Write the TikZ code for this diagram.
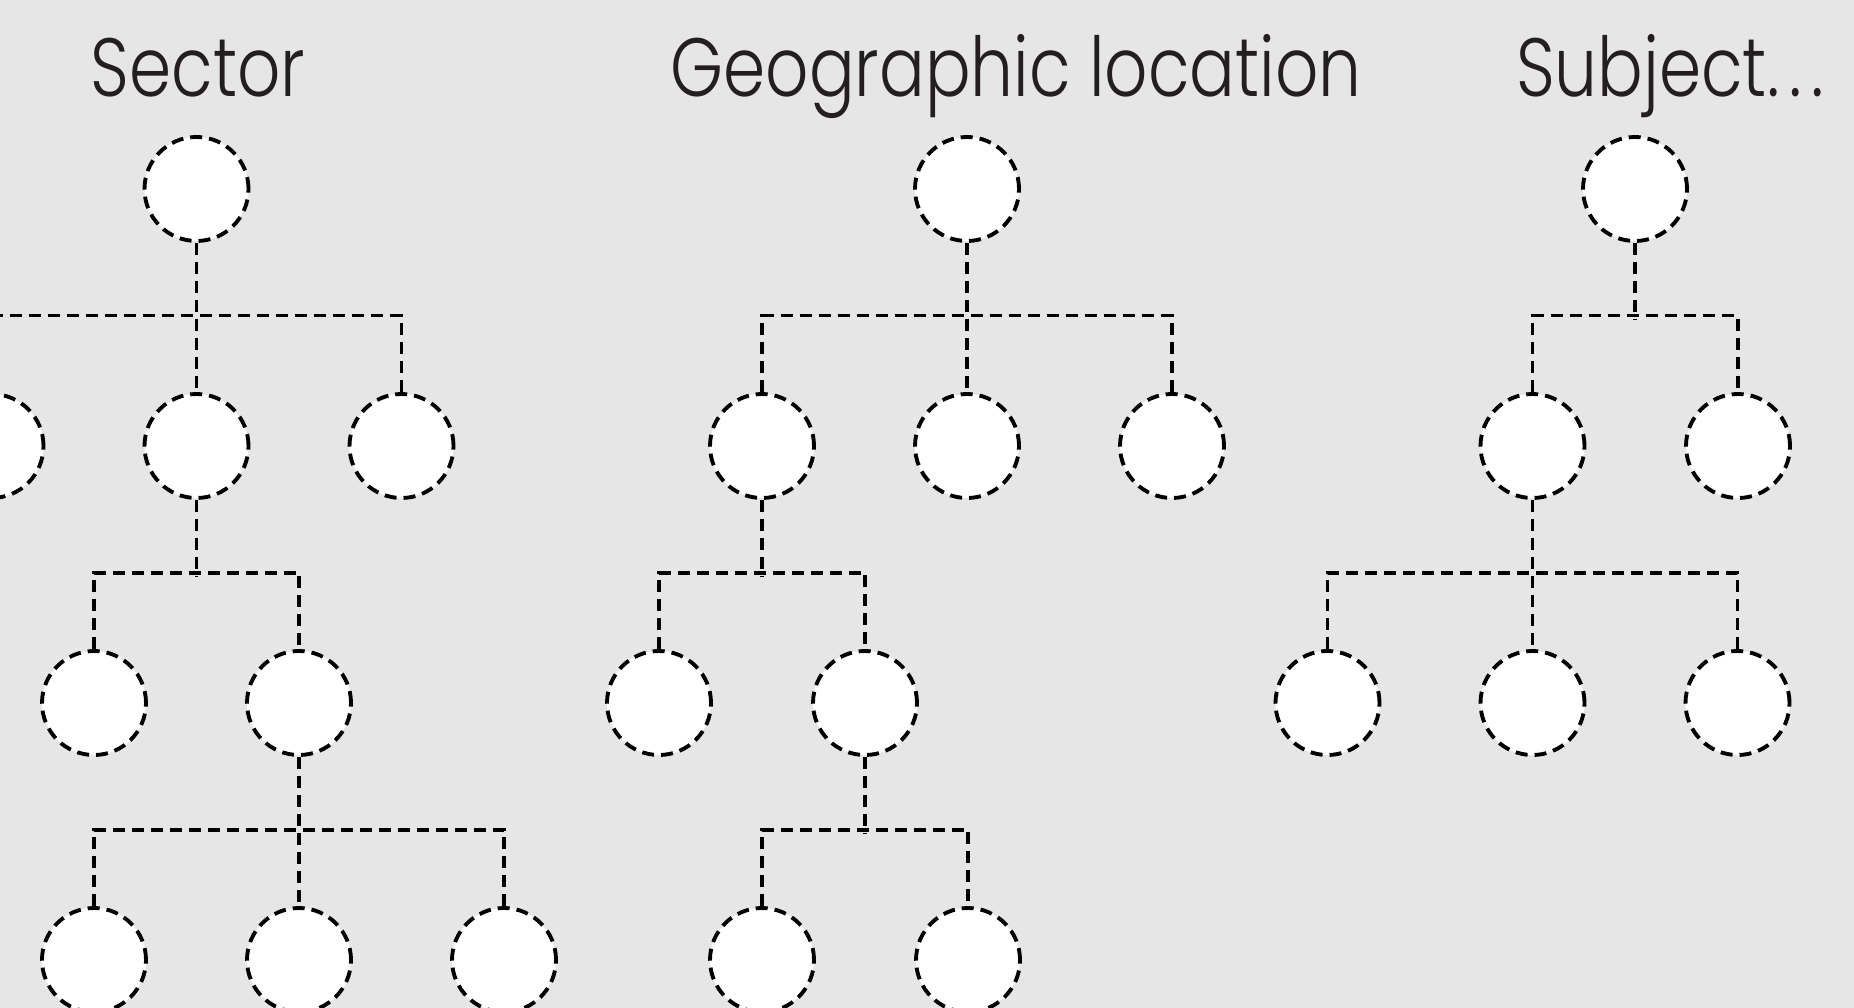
\documentclass[tikz,border=0pt]{standalone}
\usepackage{fontspec}
\setmainfont[FakeStretch=0.82]{Poppins Light}
\usetikzlibrary{positioning}
\definecolor{paper}{HTML}{E6E6E6}
\definecolor{ink}{HTML}{231F20}

\begin{document}
\begin{tikzpicture}[
    line width=1.1pt,
    set/.style={circle, draw, fill=white, dash pattern=on 0.12cm off 0.07cm, minimum size=1.04cm, inner sep=0pt},
    link/.style={draw, dash pattern=on 0.12cm off 0.07cm},
    title/.style={anchor=base, text=ink, inner sep=0pt, font=\fontsize{23.5}{28}\selectfont}
]
\clip (0,0) rectangle (18.54,-10.08);
\fill[paper] (0,0) rectangle (18.54,-10.08);

% 1. SECTOR
\begin{scope}[xshift=1.965cm]
    \node[title] (tsector) at (0.015,-0.97) {Sector};
    \node[set] (s0) at (0,-1.89) {};

    \node[set] (s1) at ([xshift=-2.05cm, yshift=-2.57cm]s0.center) {};
    \node[set] (s2) at ([yshift=-2.57cm]s0.center) {};
    \node[set] (s3) at ([xshift=2.05cm, yshift=-2.57cm]s0.center) {};

    \node[set] (s21) at ([xshift=-1.025cm, yshift=-2.57cm]s2.center) {};
    \node[set] (s22) at ([xshift=1.025cm, yshift=-2.57cm]s2.center) {};

    \node[set] (s221) at ([xshift=-2.05cm, yshift=-2.57cm]s22.center) {};
    \node[set] (s222) at ([yshift=-2.57cm]s22.center) {};
    \node[set] (s223) at ([xshift=2.05cm, yshift=-2.57cm]s22.center) {};

    \draw[link] (s0.south) -- (s2.north);
    \draw[link] (s1.north) -- ++(0,0.765) -| (s3.north);
    \draw[link] (s2.south) -- ++(0,-0.765);
    \draw[link] (s21.north) -- ++(0,0.765) -| (s22.north);
    \draw[link] (s22.south) -- (s222.north);
    \draw[link] (s221.north) -- ++(0,0.765) -| (s223.north);
\end{scope}

% 2. GEOGRAPHIC LOCATION
\begin{scope}[xshift=9.67cm]
    \node[title] (tgeo) at (0.49,-0.97) {Geographic location};
    \node[set] (g0) at (0,-1.89) {};

    \node[set] (g1) at ([xshift=-2.05cm, yshift=-2.57cm]g0.center) {};
    \node[set] (g2) at ([yshift=-2.57cm]g0.center) {};
    \node[set] (g3) at ([xshift=2.05cm, yshift=-2.57cm]g0.center) {};

    \node[set] (g11) at ([xshift=-1.03cm, yshift=-2.57cm]g1.center) {};
    \node[set] (g12) at ([xshift=1.03cm, yshift=-2.57cm]g1.center) {};

    \node[set] (g121) at ([xshift=-1.03cm, yshift=-2.57cm]g12.center) {};
    \node[set] (g122) at ([xshift=1.03cm, yshift=-2.57cm]g12.center) {};

    \draw[link] (g0.south) -- (g2.north);
    \draw[link] (g1.north) -- ++(0,0.765) -| (g3.north);
    \draw[link] (g1.south) -- ++(0,-0.765);
    \draw[link] (g11.north) -- ++(0,0.765) -| (g12.north);
    \draw[link] (g12.south) -- ++(0,-0.765);
    \draw[link] (g121.north) -- ++(0,0.765) -| (g122.north);
\end{scope}

% 3. SUBJECT
\begin{scope}[xshift=16.35cm]
    \node[title] (tsubject) at (0.35,-0.97) {Subject.\kern0.12em.\kern0.12em.};
    \node[set] (u0) at (0,-1.89) {};

    \node[set] (u1) at ([xshift=-1.025cm, yshift=-2.57cm]u0.center) {};
    \node[set] (u2) at ([xshift=1.03cm, yshift=-2.57cm]u0.center) {};

    \node[set] (u11) at ([xshift=-2.05cm, yshift=-2.57cm]u1.center) {};
    \node[set] (u12) at ([yshift=-2.57cm]u1.center) {};
    \node[set] (u13) at ([xshift=2.05cm, yshift=-2.57cm]u1.center) {};

    \draw[link] (u0.south) -- ++(0,-0.765);
    \draw[link] (u1.north) -- ++(0,0.765) -| (u2.north);
    \draw[link] (u1.south) -- (u12.north);
    \draw[link] (u11.north) -- ++(0,0.765) -| (u13.north);
\end{scope}
\end{tikzpicture}
\end{document}
